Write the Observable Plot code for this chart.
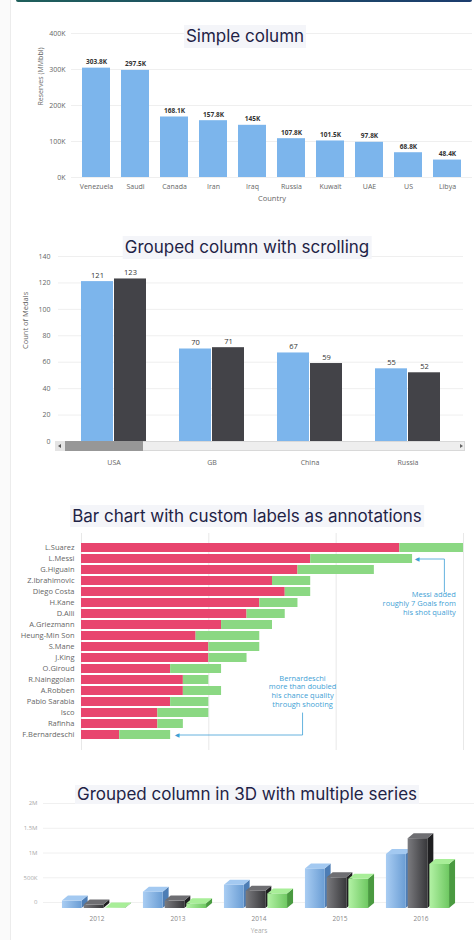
<!DOCTYPE html>
<html>
<head>
<meta charset="utf-8">
<script src="https://cdn.jsdelivr.net/npm/d3@7"></script>
<script src="https://cdn.jsdelivr.net/npm/@observablehq/plot@0.6"></script>
<style>
html,body{margin:0;padding:0;background:#fff;}
body{width:474px;height:940px;position:relative;overflow:hidden;font-family:"Open Sans",sans-serif;}
.strip{position:absolute;left:0;top:0;width:10px;height:940px;background:#fafafa;border-right:1px solid #ececec;}
.topbar{position:absolute;left:16px;top:0;width:456px;height:2px;background:linear-gradient(90deg,#1f5f5b,#1b3c6e);border-radius:0 0 2px 2px;}
.chart{position:absolute;left:0;}
.chart svg{display:block;overflow:visible;}
.title{position:absolute;transform:translateX(-50%);white-space:nowrap;font-family:Inter,"Noto Sans",sans-serif;font-size:17px;color:#1f2346;background:#f4f5f9;line-height:23px;padding:0 2px;z-index:5;}
.sb{position:absolute;z-index:4;}
</style>
</head>
<body>
<div class="strip"></div>
<div class="topbar"></div>
<div id="c1" class="chart" style="top:0px"></div>
<div id="c2" class="chart" style="top:215px"></div>
<div id="c3" class="chart" style="top:530px"></div>
<div id="c4" class="chart" style="top:780px"></div>

<div class="sb" style="left:55px;top:441px;width:410px;height:10px;background:#eeeeee;border:0.5px solid #d8d8d8;box-sizing:border-box;"></div>
<div class="sb" style="left:55px;top:441px;width:10px;height:10px;background:#e4e4e4;"></div>
<div class="sb" style="left:58px;top:443.5px;width:0;height:0;border-top:2.5px solid transparent;border-bottom:2.5px solid transparent;border-right:3px solid #555;"></div>
<div class="sb" style="left:65px;top:441px;width:78px;height:10px;background:#979797;"></div>
<div class="sb" style="left:460px;top:443.5px;width:0;height:0;border-top:2.5px solid transparent;border-bottom:2.5px solid transparent;border-left:3px solid #666;"></div>

<div class="title" style="left:245px;top:25px;">Simple column</div>
<div class="title" style="left:247px;top:236px;">Grouped column with scrolling</div>
<div class="title" style="left:247px;top:505px;line-height:22px;">Bar chart with custom labels as annotations</div>
<div class="title" style="left:247px;top:785px;line-height:19px;">Grouped column in 3D with multiple series</div>

<script>
// ---------- Chart 1 data ----------
const c1Countries = ["Venezuela","Saudi","Canada","Iran","Iraq","Russia","Kuwait","UAE","US","Libya"];
const c1Reserves = [303.8,297.5,168.1,157.8,145,107.8,101.5,97.8,68.8,48.4];
const c1ValueLabels = ["303.8K","297.5K","168.1K","157.8K","145K","107.8K","101.5K","97.8K","68.8K","48.4K"];
const c1Ticks = [0,100,200,300,400];
const c1TickLabels = ["0K","100K","200K","300K","400K"];
const c1XTitle = "Country";
const c1YTitle = "Reserves (MMbbl)";

// ---------- Chart 2 data ----------
const c2Countries = ["USA","GB","China","Russia"];
const c2SeriesA = [121,70,67,55];
const c2SeriesB = [123,71,59,52];
const c2Ticks = [0,20,40,60,80,100,120,140];
const c2YTitle = "Count of Medals";

// ---------- Chart 3 data ----------
const c3Players = ["L.Suarez","L.Messi","G.Higuain","Z.Ibrahimovic","Diego Costa","H.Kane","D.Alli","A.Griezmann","Heung-Min Son","S.Mane","J.King","O.Giroud","R.Nainggolan","A.Robben","Pablo Sarabia","Isco","Rafinha","F.Bernardeschi"];
const c3ChanceQuality = [25,18,17,15,16,14,13,11,9,10,10,7,8,8,7,6,6,3];
const c3ShotQualityAdded = [5,8,6,3,2,3,3,4,5,4,3,4,2,3,3,4,2,4];
const c3Ticks = [0,10,20,30];
const c3MessiNote = "Messi added\nroughly 7 Goals from\nhis shot quality";
const c3BernNote = "Bernardeschi\nmore than doubled\nhis chance quality\nthrough shooting";

// ---------- Chart 4 data ----------
const c4Years = ["2012","2013","2014","2015","2016"];
const c4SeriesBlue = [150000,330000,470000,800000,1090000];
const c4SeriesDark = [70000,150000,350000,620000,1410000];
const c4SeriesGreen = [10000,95000,295000,590000,890000];
const c4Ticks = [0,500000,1000000,1500000,2000000];
const c4TickLabels = ["0","500K","1M","1.5M","2M"];
const c4XTitle = "Years";

const baseStyle = {fontFamily:"'Open Sans', sans-serif", fontSize:"7px", color:"#666", background:"transparent", overflow:"visible"};

// ---------- Chart 1 ----------
const d1 = c1Countries.map((c,i)=>({country:c, value:c1Reserves[i], label:c1ValueLabels[i]}));
document.getElementById("c1").append(Plot.plot({
  width:474, height:215, marginTop:33, marginBottom:38, marginLeft:71, marginRight:2,
  style:baseStyle,
  x:{domain:c1Countries, padding:0.28, label:null, tickSize:0, tickPadding:7},
  y:{domain:[0,400], ticks:c1Ticks, tickFormat:d=>c1TickLabels[c1Ticks.indexOf(d)], label:null, tickSize:0, tickPadding:6},
  marks:[
    Plot.ruleY(c1Ticks, {stroke:"#efefef"}),
    Plot.barY(d1, {x:"country", y:"value", fill:"#7cb5ec"}),
    Plot.text(d1, {x:"country", y:"value", text:"label", dy:-6, fontWeight:"bold", fill:"#333", fontSize:6.5}),
    Plot.text([c1XTitle], {frameAnchor:"bottom", dy:23, fill:"#666", fontSize:7.5}),
    Plot.text([c1YTitle], {frameAnchor:"left", dx:-31, rotate:-90, fill:"#666", fontSize:7})
  ]
}));

// ---------- Chart 2 ----------
const d2 = c2Countries.map((c,i)=>({country:c, a:c2SeriesA[i], b:c2SeriesB[i]}));
document.getElementById("c2").append(Plot.plot({
  width:474, height:260, marginTop:41, marginBottom:34, marginLeft:58, marginRight:11,
  style:baseStyle,
  x:{domain:c2Countries, paddingInner:0.333, paddingOuter:0.212, label:null, tickSize:0, tickPadding:19},
  y:{domain:[0,140], ticks:c2Ticks, label:null, tickSize:0, tickPadding:8},
  marks:[
    Plot.ruleY(c2Ticks, {stroke:"#efefef"}),
    Plot.barY(d2, {x:"country", y:"a", fill:"#7cb5ec", insetRight:33}),
    Plot.barY(d2, {x:"country", y:"b", fill:"#434348", insetLeft:33}),
    Plot.text(d2, {x:"country", y:"a", text:d=>String(d.a), dx:-16.5, dy:-6, fill:"#333", fontSize:7.5}),
    Plot.text(d2, {x:"country", y:"b", text:d=>String(d.b), dx:16.5, dy:-6, fill:"#333", fontSize:7.5}),
    Plot.text([c2YTitle], {frameAnchor:"left", dx:-33, rotate:-90, fill:"#666", fontSize:7.5})
  ]
}));

// ---------- Chart 3 ----------
const d3rows = c3Players.map((p,i)=>({player:p, red:c3ChanceQuality[i], green:c3ShotQualityAdded[i], total:c3ChanceQuality[i]+c3ShotQualityAdded[i]}));
const noteColor = "#3f9fd5";
const messiPath = [{x:26.35, y:"L.Messi"},{x:28.5, y:"L.Messi"},{x:28.5, y:"Diego Costa"}];
const bernPath = [{x:17.36, y:"Isco"},{x:17.36, y:"F.Bernardeschi"},{x:7.5, y:"F.Bernardeschi"}];
document.getElementById("c3").append(Plot.plot({
  width:474, height:220, marginTop:3, marginBottom:0, marginLeft:81, marginRight:11,
  style:{...baseStyle, fontSize:"7.5px"},
  x:{domain:[0,30], axis:null},
  y:{domain:c3Players, paddingInner:0.18, paddingOuter:0.88, label:null, tickSize:0, tickPadding:7},
  marks:[
    Plot.ruleX(c3Ticks, {stroke:"#e8e8e8"}),
    Plot.barX(d3rows, {y:"player", x1:0, x2:"red", fill:"#e8456e"}),
    Plot.barX(d3rows, {y:"player", x1:"red", x2:"total", fill:"#8bd883"}),
    Plot.line(messiPath, {x:"x", y:"y", stroke:noteColor, strokeWidth:0.8}),
    Plot.line(bernPath, {x:"x", y:"y", stroke:noteColor, strokeWidth:0.8}),
    Plot.text([messiPath[0], bernPath[2]], {x:"x", y:"y", text:()=>"◀", fill:noteColor, fontSize:6, fontFamily:"DejaVu Sans"}),
    Plot.text([{x:29.4, y:"H.Kane", t:c3MessiNote}], {x:"x", y:"y", text:"t", textAnchor:"end", lineHeight:1.2, fontSize:7.5, fill:noteColor}),
    Plot.text([{x:17.36, y:"A.Robben", t:c3BernNote}], {x:"x", y:"y", text:"t", lineHeight:1.18, fontSize:7.5, fill:noteColor})
  ]
}));

// ---------- Chart 4 (3D) ----------
const c4Series = [
  {key:"blue", values:c4SeriesBlue, front:["#a9cdf3","#6a9dd4"], top:"#a3c9f1", side:"#4d7db5"},
  {key:"dark", values:c4SeriesDark, front:["#7b7b7f","#38383b"], top:"#6e6e72", side:"#1f1f21"},
  {key:"green", values:c4SeriesGreen, front:["#b3f2a5","#6fc862"], top:"#a8ee98", side:"#4a9a40"}
];
function bars3D(index, scales) {
  const x = scales.x, y = scales.y;
  const bw = (typeof x.bandwidth === "function" && x.bandwidth() > 0) ? x.bandwidth() : (typeof x.step === "function" ? x.step() : 82);
  const offset = (typeof x.bandwidth === "function" && x.bandwidth() > 0) ? bw/2 : 0;
  const depthX = 6, depthY = 5, floor = 6;
  const w = bw*0.243, gap = bw*0.025;
  const g = d3.create("svg:g");
  const defs = g.append("defs");
  c4Series.forEach(s => {
    const lg = defs.append("linearGradient").attr("id","g3d-"+s.key).attr("x1",0).attr("x2",1).attr("y1",0).attr("y2",0);
    lg.append("stop").attr("offset","0").attr("stop-color",s.front[0]);
    lg.append("stop").attr("offset","1").attr("stop-color",s.front[1]);
  });
  c4Years.forEach((yr,i) => {
    const left = x(yr) + offset - (3*w + 2*gap + depthX)/2;
    c4Series.forEach((s,j) => {
      const x0 = left + j*(w+gap), x1 = x0 + w;
      const yb = y(0) + floor, yt = y(s.values[i]) + floor;
      g.append("path").attr("d",`M${x1},${yt}L${x1+depthX},${yt-depthY}L${x1+depthX},${yb-depthY}L${x1},${yb}Z`).attr("fill",s.side);
      g.append("rect").attr("x",x0).attr("y",yt).attr("width",w).attr("height",Math.max(0,yb-yt)).attr("fill",`url(#g3d-${s.key})`);
      g.append("path").attr("d",`M${x0},${yt}L${x0+depthX},${yt-depthY}L${x1+depthX},${yt-depthY}L${x1},${yt}Z`).attr("fill",s.top);
    });
  });
  return g.node();
}
document.getElementById("c4").append(Plot.plot({
  width:474, height:160, marginTop:23, marginBottom:38, marginLeft:43, marginRight:0,
  style:baseStyle,
  x:{type:"band", domain:c4Years, paddingInner:0, paddingOuter:0.13, axis:null},
  y:{domain:[0,2000000], ticks:c4Ticks, tickFormat:d=>c4TickLabels[c4Ticks.indexOf(d)], label:null, tickSize:0, tickPadding:6},
  marks:[
    Plot.ruleY(c4Ticks, {stroke:"#f0f0f0"}),
    bars3D,
    Plot.text(c4Years, {x:d=>d, text:d=>d, frameAnchor:"bottom", dy:18, fill:"#888", fontSize:6.5}),
    Plot.text([c4XTitle], {frameAnchor:"bottom", dy:30, fill:"#aaa", fontSize:6.5})
  ]
}));
document.querySelectorAll("#c4 svg [aria-label='y-axis'] text, #c4 svg [aria-label='y-axis tick label'] text").forEach(t=>{t.setAttribute("fill","#aaa");t.setAttribute("font-size","6px");});
</script>
</body>
</html>
